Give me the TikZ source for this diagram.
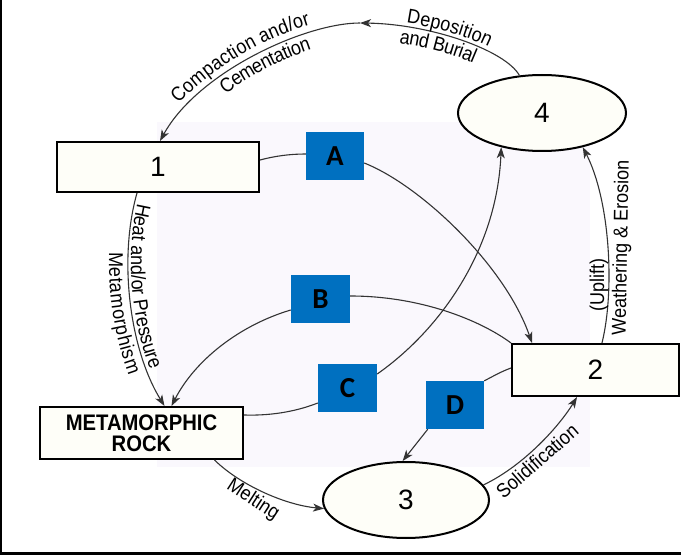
\documentclass[tikz,border=0pt]{standalone}
\usepackage{fontspec}
\setmainfont{Liberation Sans}
\newfontfamily\condfont[FakeStretch=0.9]{Liberation Sans}
\newfontfamily\abcfont{Carlito}
\newcommand\lblfont{\condfont\fontsize{20}{22}\selectfont}
\usetikzlibrary{arrows.meta,shapes.geometric,decorations.text}
\definecolor{conncol}{HTML}{333333}
\definecolor{boxblue}{HTML}{0070C0}
\definecolor{lav}{HTML}{FAF8FD}
\definecolor{ivory}{HTML}{FEFEF8}
\begin{document}
\begin{tikzpicture}[x=1pt,y=-1pt,
  box/.style={draw=black,line width=2pt,fill=ivory,rectangle,inner sep=0pt},
  ell/.style={draw=black,line width=2pt,fill=ivory,ellipse,inner sep=0pt},
  num/.style={font=\fontsize{28}{30}\selectfont},
  tag/.style={fill=boxblue,minimum width=58pt,minimum height=48pt,inner sep=0pt,font=\abcfont\bfseries\fontsize{29}{30}\selectfont},
  conn/.style={draw=conncol,line width=1.1pt},
  arr/.style={conn,-{Stealth[length=11pt,width=8pt,inset=3pt]}},
  lbl/.style={font=\lblfont,inner sep=0pt},
  along/.style 2 args={decorate,decoration={text along path,text={|\lblfont|#1},text align={left indent=#2}}}]
\useasboundingbox (0,0) rectangle (681,556);
\fill[white] (0,0) rectangle (681,556);
\fill[lav] (157,122) rectangle (590,467);
\draw[line width=2.5pt] (1.2,0) -- (1.2,553.5) -- (681,553.5);

% nodes
\node[box,minimum width=202pt,minimum height=50pt,num] (b1) at (158,167) {1};
\node[ell,minimum width=168pt,minimum height=76pt,num] (e4) at (542,113) {4};
\node[box,minimum width=167pt,minimum height=52pt,num] (b2) at (595.5,370) {2};
\node[ell,minimum width=166pt,minimum height=76pt,num] (e3) at (406,500) {3};
\node[box,minimum width=203pt,minimum height=52pt,align=center,font=\condfont\bfseries\fontsize{22.5}{21}\selectfont] (mr) at (141.5,433) {METAMORPHIC\\ROCK};

\node[tag] (tA) at (335,156) {A};
\node[tag,minimum width=59pt] (tB) at (320.5,299) {B};
\node[tag,minimum width=59pt] (tC) at (347.5,388) {C};
\node[tag] (tD) at (455,405) {D};

% top arc
\coordinate (top) at (360,23);
\draw[arr] (e4.121) .. controls (505,50) and (430,24) .. (top);
\draw[arr] (top) .. controls (305,23) and (198,72) .. ([xshift=2pt]b1.north);
\path[along={Deposition}{46pt},decoration={raise=4pt}] (top) .. controls (430,24) and (505,50) .. (e4.121);
\path[along={and Burial}{42pt},decoration={raise=-17pt}] (top) .. controls (430,24) and (505,50) .. (e4.121);
\path[along={Compaction and/or}{40pt},decoration={raise=7pt}] ([xshift=2pt]b1.north) .. controls (198,72) and (305,23) .. (top);
\path[along={Cementation}{83pt},decoration={raise=-17pt}] ([xshift=2pt]b1.north) .. controls (198,72) and (305,23) .. (top);

% metamorphism
\draw[arr] ([xshift=-21pt]b1.south) .. controls (118,260) and (130,350) .. ([xshift=23pt]mr.north);
\path[along={Heat and/or Pressure}{10pt},decoration={raise=3pt}] ([xshift=-21pt]b1.south) .. controls (118,260) and (130,350) .. ([xshift=23pt]mr.north);
\path[along={Metamorphism}{60pt},decoration={raise=-19pt}] ([xshift=-21pt]b1.south) .. controls (118,260) and (130,350) .. ([xshift=23pt]mr.north);
% melting
\draw[arr] ([xshift=73pt]mr.south) .. controls (240,485) and (285,505) .. (e3.186);
% solidification
\draw[arr] (e3.11) .. controls (525,465) and (560,425) .. ([xshift=-18.5pt]b2.south);
% weathering
\draw[arr] ([xshift=6.5pt]b2.north) .. controls (615,290) and (610,200) .. (e4.-40);

% A
\draw[conn] ([yshift=7pt]b1.east) .. controls (275,156) and (290,154) .. ([yshift=2pt]tA.west);
\draw[arr] ([yshift=-7pt]tA.east) .. controls (420,185) and (505,265) .. ([xshift=21pt]b2.north west);
% B
\draw[arr] ([yshift=-11pt]tB.west) .. controls (240,325) and (195,360) .. ([xshift=30pt]mr.north);
\draw[conn] ([yshift=3pt]tB.east) .. controls (420,296) and (480,320) .. (b2.north west);
% C
\draw[conn] ([yshift=18pt]mr.east) .. controls (275,416) and (300,410) .. ([yshift=-15pt]tC.west);
\draw[arr] ([yshift=14pt]tC.east) .. controls (440,330) and (497,250) .. (e4.220);
% D
\draw[conn] ([yshift=2pt]b2.west) .. controls (500,372) and (492,377) .. (tD.north east);
\draw[arr] ([xshift=2pt]tD.south west) -- (e3.95);

% straight labels
\node[lbl,rotate=90] (l7) at (599,285) {(Uplift)};
\node[lbl,rotate=89] (l8) at (622,248) {Weathering \& Erosion};
\node[lbl,rotate=-33] (l9) at (253,500) {Melting};
\node[lbl,rotate=41] (l10) at (537,461) {Solidification};
\end{tikzpicture}
\end{document}
